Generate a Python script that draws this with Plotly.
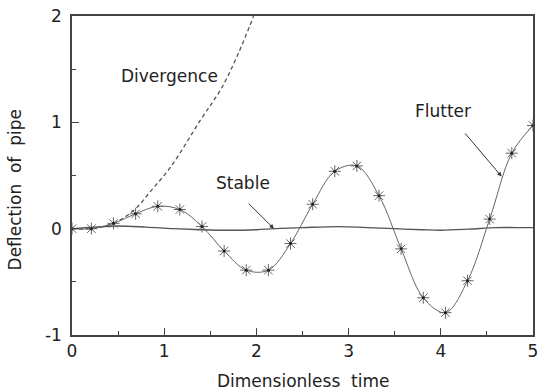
import plotly.graph_objects as go

# Flutter response (markers + smooth line)
flutter_t = [0.0, 0.21, 0.45, 0.69, 0.93, 1.17, 1.41, 1.65, 1.89, 2.13, 2.37,
             2.61, 2.85, 3.09, 3.33, 3.57, 3.81, 4.05, 4.29, 4.53, 4.77, 5.0]
flutter_y = [0.0, 0.0, 0.05, 0.14, 0.21, 0.18, 0.02, -0.21, -0.39, -0.39, -0.14,
             0.23, 0.54, 0.59, 0.31, -0.19, -0.65, -0.79, -0.49, 0.09, 0.71, 0.97]

# Divergence response (dashed)
div_t = [0.0, 0.2, 0.45, 0.68, 0.86, 1.07, 1.4, 1.62, 1.8, 1.97]
div_y = [0.0, 0.0, 0.05, 0.18, 0.36, 0.58, 1.03, 1.32, 1.64, 2.0]

# Stable response (solid, nearly flat)
stable_t = [0.0, 0.25, 0.5, 0.8, 1.1, 1.4, 1.7, 2.0, 2.2, 2.5, 2.9, 3.2, 3.5,
            3.8, 4.0, 4.3, 4.6, 4.9, 5.0]
stable_y = [0.0, 0.015, 0.025, 0.015, 0.0, -0.01, -0.015, -0.01, 0.0, 0.01, 0.02,
            0.01, 0.0, -0.01, -0.015, -0.005, 0.01, 0.01, 0.01]

x_ticks = [0, 1, 2, 3, 4, 5]
x_labels = ["0", "1", "2", "3", "4", "5"]
y_ticks = [-1, 0, 1, 2]
y_labels = ["-1", "0", "1", "2"]

FONT = "DejaVu Sans"
fig = go.Figure()

fig.add_trace(go.Scatter(x=div_t, y=div_y, mode="lines", line_shape="spline",
                         line=dict(color="#555555", width=1.3, dash="4px,3px"),
                         showlegend=False))
fig.add_trace(go.Scatter(x=stable_t, y=stable_y, mode="lines", line_shape="spline",
                         line=dict(color="#555555", width=1.3), showlegend=False))
fig.add_trace(go.Scatter(x=flutter_t, y=flutter_y, mode="lines+markers",
                         line_shape="spline",
                         line=dict(color="#666666", width=1),
                         marker=dict(symbol="asterisk-open", size=10,
                                     line=dict(color="#666666", width=1)),
                         showlegend=False))
fig.add_trace(go.Scatter(x=flutter_t, y=flutter_y, mode="markers",
                         marker=dict(symbol="circle", size=3, color="#222222"),
                         showlegend=False))

axis_common = dict(showline=True, linecolor="#444444", linewidth=1.5, mirror=True,
                   ticks="inside", ticklen=7, tickwidth=1.2, tickcolor="#444444",
                   showgrid=False, zeroline=False,
                   tickfont=dict(family=FONT, size=17, color="#222222"),
                   minor=dict(ticks="inside", ticklen=4, tickwidth=1.2,
                              tickcolor="#444444", dtick=0.5, showgrid=False))

fig.update_xaxes(range=[0, 5], tickvals=x_ticks, ticktext=x_labels, **axis_common)
fig.update_yaxes(range=[-1, 2], tickvals=y_ticks, ticktext=y_labels,
                 ticklabelstandoff=5, **axis_common)

ann_font = dict(family=FONT, size=17, color="#222222")
fig.update_layout(
    width=543, height=391,
    margin=dict(l=72, r=5, t=16, b=56),
    paper_bgcolor="white", plot_bgcolor="white",
    annotations=[
        dict(text="Divergence", x=1.06, y=1.44, xref="x", yref="y",
             showarrow=False, font=ann_font),
        dict(text="Stable", x=1.86, y=0.43, xref="x", yref="y",
             showarrow=False, font=ann_font),
        dict(text="Flutter", x=4.02, y=1.11, xref="x", yref="y",
             showarrow=False, font=ann_font),
        dict(text="", x=2.19, y=0.0, ax=1.90, ay=0.25, xref="x", yref="y",
             axref="x", ayref="y", showarrow=True, arrowhead=2, arrowsize=0.9,
             arrowwidth=1, arrowcolor="#333333"),
        dict(text="", x=4.66, y=0.49, ax=4.25, ay=0.91, xref="x", yref="y",
             axref="x", ayref="y", showarrow=True, arrowhead=2, arrowsize=0.9,
             arrowwidth=1, arrowcolor="#333333"),
        dict(text="Dimensionless\u00a0 time", x=0.5, y=-0.144, xref="paper",
             yref="paper", showarrow=False, xanchor="center", yanchor="middle",
             font=ann_font),
        dict(text="Deflection\u00a0 of\u00a0 pipe", x=-0.1245, y=0.455,
             xref="paper", yref="paper", showarrow=False, textangle=-90,
             xanchor="center", yanchor="middle", font=ann_font),
    ],
)

fig.write_html("out.html")
